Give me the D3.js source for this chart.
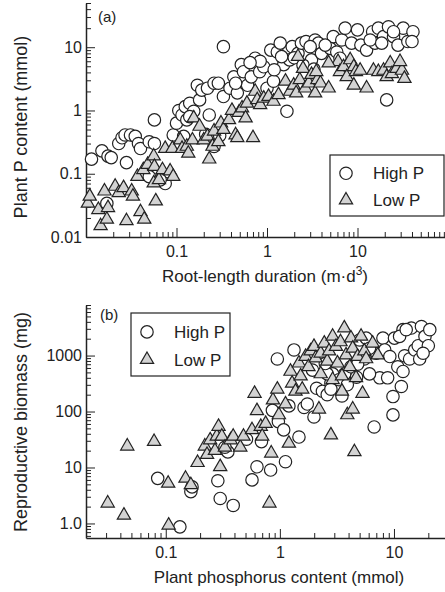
<!DOCTYPE html>
<html>
<head>
<meta charset="utf-8">
<script src="https://cdn.jsdelivr.net/npm/d3@7"></script>
<style>
body { margin: 0; background: #fff; }
text { font-family: "Liberation Sans", Arial, sans-serif; fill: #222; }
</style>
</head>
<body>
<div id="chart-area"></div>
<script>
// panel (a): root-length duration vs plant P content
const highP_a = [
  [0.0115,0.17],[0.015,0.23],[0.0175,0.19],[0.019,0.18],[0.023,0.30],[0.025,0.37],[0.028,0.15],[0.027,0.41],
  [0.031,0.41],[0.035,0.39],[0.038,0.30],[0.040,0.25],[0.05,0.32],[0.057,0.71],[0.057,0.30],[0.05,0.09],
  [0.075,0.07],[0.017,0.034],[0.066,0.08],[0.092,0.41],[0.1,0.63],[0.106,1.0],[0.115,0.85],[0.125,1.15],
  [0.13,0.71],[0.14,1.3],[0.155,0.97],[0.17,2.5],[0.18,1.47],[0.19,2.1],[0.22,2.25],[0.23,0.85],[0.26,2.7],
  [0.29,2.7],[0.33,10.2],[0.33,1.66],[0.39,2.25],[0.43,3.4],[0.47,1.9],[0.52,5.3],[0.55,4.1],[0.61,2.5],
  [0.67,3.4],[0.74,6.7],[0.83,4.1],[0.92,4.9],[1.0,2.25],[1.1,9],[1.18,2.9],[1.3,8.4],[1.4,11.6],[1.53,5.3],
  [1.66,0.97],[1.78,6.3],[1.9,10.2],[2.2,8],[2.4,11.6],[2.7,12.3],[3.1,6.3],[3.4,13],[3.7,11.6],[4,8],
  [5,9.6],[5.4,14.7],[5.9,8.4],[6.7,13],[7.3,20],[8.6,11.6],[10,18.8],[10.9,10.8],[12.6,9],[14.7,17.6],
  [15.6,11.6],[17,20],[19.4,14.7],[21,1.47],[22,21],[25,14.7],[28,10.8],[32,20],[36,12.3],[41,17.6],[40,12.3],
  [0.84,6],[1.45,7.1],[2.0,6.8],[3.0,10.2],[4.4,10.8],[6.4,6.7],[13.8,13],[18.5,11.6],[25,17.6],[0.45,2.7],
  [0.12,0.39],[0.26,0.27],[0.14,0.8],[0.3,0.4],[0.21,0.42],[2.5,5.2],[3.3,4.5],[1.2,4.4],[0.65,5.7]
]
const lowP_a = [
  [0.0105,0.034],[0.011,0.044],[0.0137,0.027],[0.0145,0.015],[0.016,0.053],[0.017,0.019],[0.0175,0.029],
  [0.021,0.063],[0.023,0.05],[0.026,0.06],[0.028,0.018],[0.032,0.053],[0.033,0.044],[0.04,0.025],[0.044,0.019],
  [0.037,0.09],[0.043,0.115],[0.048,0.14],[0.056,0.19],[0.057,0.13],[0.056,0.071],[0.059,0.037],[0.064,0.08],
  [0.07,0.115],[0.075,0.25],[0.085,0.11],[0.092,0.09],[0.09,0.25],[0.11,0.34],[0.115,0.25],[0.13,0.27],
  [0.135,0.21],[0.15,0.34],[0.155,0.76],[0.18,0.56],[0.2,0.34],[0.22,0.39],[0.23,0.17],[0.25,0.27],[0.26,0.47],
  [0.29,0.32],[0.31,0.63],[0.33,0.5],[0.38,0.71],[0.41,1.0],[0.45,0.41],[0.47,0.37],[0.49,0.93],[0.53,1.09],
  [0.58,0.76],[0.6,1.3],[0.7,0.37],[0.74,2.0],[0.78,1.47],[0.84,1.23],[0.92,1.56],[1.04,1.66],[1.18,1.39],
  [1.34,1.77],[1.6,2.9],[1.8,2.0],[1.97,2.5],[2.1,1.88],[2.2,7.1],[2.3,3.05],[2.5,4.6],[2.65,2.25],[2.9,2.7],
  [3.1,3.7],[3.4,1.88],[3.6,3.05],[3.9,2.7],[4.8,2.25],[6.1,5.9],[6.4,4.1],[7,4.9],[7.6,3.4],[8.3,6.3],
  [9.1,4.9],[9.6,4.1],[9.1,2.5],[10.7,4.3],[12.6,2.25],[15,4.3],[17,4.1],[19.4,4.3],[21,3.4],[23,5.6],
  [24,3.8],[27,4.6],[31,4.3],[33,3.2],[29.5,5.9],[4.8,5.6],[3.5,4.1]
]
// panel (b): plant phosphorus content vs reproductive biomass
const highP_b = [
  [0.133,0.87],[0.085,6.4],[0.166,3.7],[0.17,4.5],[0.286,5.8],[0.3,2.8],[0.39,2.1],[0.57,6],[0.63,10.3],
  [0.69,29],[0.83,9],[0.86,105],[0.95,870],[0.97,66],[1.08,47],[1.12,12.7],[1.2,126],[1.47,35],[1.33,1260],
  [1.63,118],[1.74,136],[1.99,80],[2.1,260],[2.36,230],[2.6,200],[2.8,320],[2.9,470],[3.3,370],[3.7,470],
  [4.2,630],[4.7,410],[5,1900],[5.5,870],[5.7,2050],[6.7,53],[7,1100],[7.5,400],[8,2050],[8.3,1260],[8.8,400],
  [9.2,960],[9.8,185],[9.8,87],[10.1,2050],[10.8,630],[11.6,280],[12,2900],[12,520],[12.4,990],[13.7,870],
  [14.2,3100],[15.2,1260],[16.3,1500],[16.8,870],[17.4,3300],[18.7,2200],[20,1500],[20.6,2900],[18,1100],
  [11.2,2200],[12.8,2900],[6.1,1350],[4.8,700],[3.9,300],[3.5,190],[2.8,250],[2.6,470],[0.51,32],[0.35,19],
  [0.33,23],[1.93,550],[2.5,720],[4.35,1100],[6.1,470]
]
const lowP_b = [
  [0.031,2.3],[0.043,1.4],[0.046,24],[0.079,29],[0.105,5.2],[0.106,0.93],[0.149,6.4],[0.166,4.9],[0.19,12.2],
  [0.22,24],[0.23,17],[0.245,31],[0.27,20],[0.28,36],[0.29,54],[0.3,10.3],[0.31,36],[0.33,23],[0.37,31],
  [0.39,36],[0.45,23],[0.48,36],[0.57,47],[0.6,210],[0.63,103],[0.68,54],[0.7,36],[0.75,61],[0.81,2.3],
  [0.84,18],[0.87,160],[0.95,250],[0.98,87],[1.12,136],[1.2,27],[1.24,520],[1.28,320],[1.37,230],[1.47,730],
  [1.52,430],[1.57,250],[1.68,960],[1.78,630],[1.86,1200],[1.99,1450],[2.06,900],[2.2,110],[2.28,1100],
  [2.45,1660],[2.6,790],[2.7,1200],[2.8,38],[2.9,2200],[3.1,1450],[3.2,730],[3.4,1750],[3.5,230],[3.67,3100],
  [3.8,1020],[3.9,87],[4.1,630],[4.2,2050],[4.35,1350],[4.35,110],[4.5,19],[4.65,400],[4.8,960],[5.15,2200],
  [5.3,210],[5.5,1200],[5.7,870],[6.5,1660],[7.2,1020],[2.9,370],[3.5,430],[2.28,470]
]
const aXTicks = [0.1, 1, 10]
const aXLabels = ["0.1", "1", "10"]
const aYTicks = [0.01, 0.1, 1, 10]
const aYLabels = ["0.01", "0.1", "1", "10"]
const bXTicks = [0.1, 1, 10]
const bXLabels = ["0.1", "1", "10"]
const bYTicks = [1, 10, 100, 1000]
const bYLabels = ["1.0", "10", "100", "1000"]
const seriesNames = ["High P", "Low P"]

const svg = d3.select("#chart-area").append("svg")
    .attr("width", 445)
    .attr("height", 592)

const isMajor = v => Math.abs(Math.log10(v) - Math.round(Math.log10(v))) < 1e-6

function drawPanel(cfg) {
    const g = svg.append("g")
    const x = d3.scaleLog().domain(cfg.xDomain).range(cfg.xRange)
    const y = d3.scaleLog().domain(cfg.yDomain).range(cfg.yRange)
    const x0 = cfg.xRange[0], y0 = cfg.yRange[0]

    // minor ticks first
    g.append("g")
        .attr("transform", `translate(0, ${y0})`)
        .call(d3.axisBottom(x).tickValues(x.ticks().filter(v => !isMajor(v)))
            .tickSizeInner(-5).tickSizeOuter(0).tickFormat(""))
        .call(a => a.select(".domain").remove())
    g.append("g")
        .attr("transform", `translate(${x0}, 0)`)
        .call(d3.axisLeft(y).tickValues(y.ticks().filter(v => !isMajor(v)))
            .tickSizeInner(-5).tickSizeOuter(0).tickFormat(""))
        .call(a => a.select(".domain").remove())

    const xAxis = g.append("g")
        .attr("transform", `translate(0, ${y0})`)
        .call(d3.axisBottom(x).tickValues(cfg.xTicks)
            .tickFormat((d, i) => cfg.xLabels[i])
            .tickSizeInner(-9).tickSizeOuter(0).tickPadding(9))
    const yAxis = g.append("g")
        .attr("transform", `translate(${x0}, 0)`)
        .call(d3.axisLeft(y).tickValues(cfg.yTicks)
            .tickFormat((d, i) => cfg.yLabels[i])
            .tickSizeInner(-9).tickSizeOuter(0).tickPadding(4))
    ;[xAxis, yAxis].forEach(a => {
        a.selectAll("text").attr("font-size", "16px").attr("font-family", null).attr("fill", "#222")
        a.select(".domain").attr("stroke", "#222").attr("stroke-width", 1.5)
    })
    g.selectAll(".tick line").attr("stroke", "#222")

    // points: circles then triangles
    g.append("g").selectAll("circle").data(cfg.high).enter()
        .append("circle")
        .attr("cx", d => x(d[0]))
        .attr("cy", d => y(d[1]))
        .attr("r", 6.2)
        .attr("fill", "#fff")
        .attr("stroke", "#222")
        .attr("stroke-width", 1.2)
    g.append("g").selectAll("path").data(cfg.low).enter()
        .append("path")
        .attr("transform", d => `translate(${x(d[0])}, ${y(d[1])})`)
        .attr("d", d3.symbol(d3.symbolTriangle, 76))
        .attr("fill", "#d3d3d3")
        .attr("stroke", "#222")
        .attr("stroke-width", 1.2)

    // panel letter
    g.append("text")
        .attr("x", cfg.letterPos[0])
        .attr("y", cfg.letterPos[1])
        .attr("font-size", "15px")
        .text(cfg.letter)

    // axis titles
    const xt = g.append("text")
        .attr("x", cfg.xTitlePos[0])
        .attr("y", cfg.xTitlePos[1])
        .attr("font-size", "17px")
        .attr("text-anchor", "middle")
    cfg.xTitle(xt)
    g.append("text")
        .attr("transform", `translate(${cfg.yTitlePos[0]}, ${cfg.yTitlePos[1]}) rotate(-90)`)
        .attr("font-size", "18px")
        .attr("text-anchor", "middle")
        .text(cfg.yTitle)

    // legend
    const L = cfg.legend
    const lg = g.append("g")
    lg.append("rect")
        .attr("x", L.x).attr("y", L.y)
        .attr("width", L.w).attr("height", L.h)
        .attr("fill", "#fff")
        .attr("stroke", "#222")
        .attr("stroke-width", 1.2)
    lg.append("circle")
        .attr("cx", L.x + 16).attr("cy", L.y + L.h * 0.3)
        .attr("r", 6.2).attr("fill", "#fff").attr("stroke", "#222").attr("stroke-width", 1.2)
    lg.append("path")
        .attr("transform", `translate(${L.x + 16}, ${L.y + L.h * 0.74})`)
        .attr("d", d3.symbol(d3.symbolTriangle, 76))
        .attr("fill", "#d3d3d3").attr("stroke", "#222").attr("stroke-width", 1.2)
    seriesNames.forEach((s, i) => {
        lg.append("text")
            .attr("x", L.x + 43)
            .attr("y", L.y + L.h * (i === 0 ? 0.3 : 0.74) + 6)
            .attr("font-size", "17px")
            .text(s)
    })
}

drawPanel({
    high: highP_a, low: lowP_a,
    xDomain: [0.01, 100], xRange: [86, 448],
    yDomain: [0.01, 50], yRange: [237, 3],
    xTicks: aXTicks, xLabels: aXLabels, yTicks: aYTicks, yLabels: aYLabels,
    letter: "(a)", letterPos: [98, 22],
    xTitlePos: [265, 282],
    xTitle: t => {
        t.append("tspan").text("Root-length duration (m·d")
        t.append("tspan").attr("dy", -7).attr("font-size", "12px").text("3")
        t.append("tspan").attr("dy", 7).text(")")
    },
    yTitlePos: [27, 127], yTitle: "Plant P content (mmol)",
    legend: {x: 330, y: 155, w: 114, h: 61}
})

drawPanel({
    high: highP_b, low: lowP_b,
    xDomain: [0.02, 28], xRange: [86, 445],
    yDomain: [0.55, 8000], yRange: [538, 305],
    xTicks: bXTicks, xLabels: bXLabels, yTicks: bYTicks, yLabels: bYLabels,
    letter: "(b)", letterPos: [100, 320],
    xTitlePos: [279, 583],
    xTitle: t => t.text("Plant phosphorus content (mmol)"),
    yTitlePos: [27, 422], yTitle: "Reproductive biomass (mg)",
    legend: {x: 131, y: 313, w: 99, h: 63}
})
</script>
</body>
</html>
